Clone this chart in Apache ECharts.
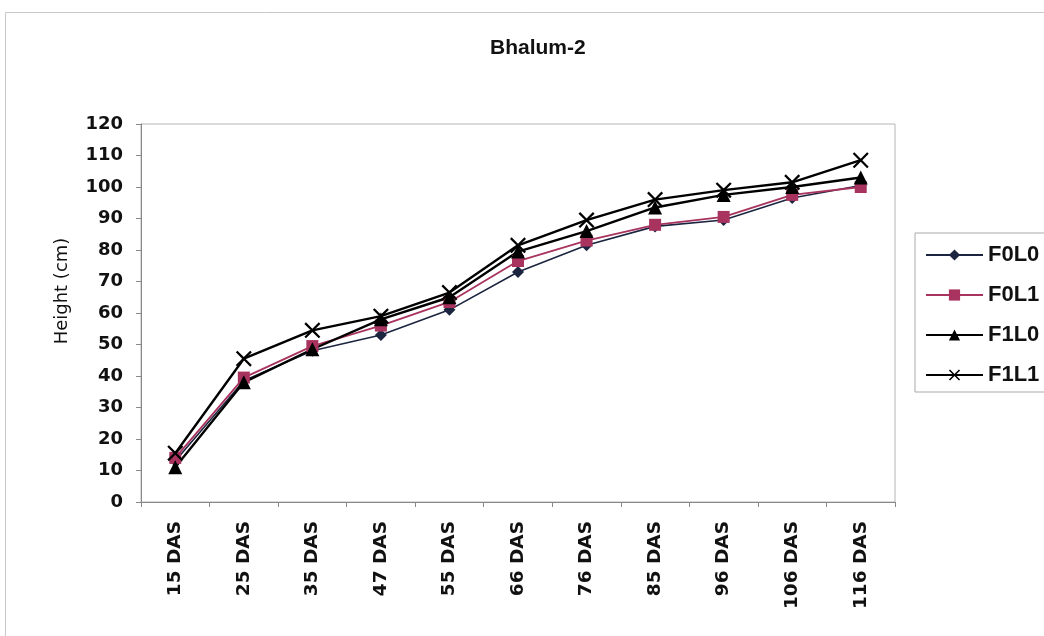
<!DOCTYPE html>
<html>
<head>
<meta charset="utf-8">
<script src="https://cdn.jsdelivr.net/npm/echarts@6/dist/echarts.min.js"></script>
<style>
  html, body { margin: 0; padding: 0; background: #fff; }
  #chart { width: 1044px; height: 636px; }
</style>
</head>
<body>
<div id="chart"></div>
<script>
// Plant height (cm) at days after sowing, Bhalum-2
const categories = ['15 DAS', '25 DAS', '35 DAS', '47 DAS', '55 DAS', '66 DAS', '76 DAS', '85 DAS', '96 DAS', '106 DAS', '116 DAS'];
const F0L0 = [13, 38.5, 48, 53, 61, 73, 81.5, 87.5, 89.5, 96.5, 100.5];
const F0L1 = [14, 39.5, 49.5, 56, 63.5, 76.5, 83, 88, 90.5, 97.5, 100];
const F1L0 = [11, 38, 48.5, 58, 65, 79.5, 86, 93.5, 97.5, 100, 103];
const F1L1 = [15.5, 45.5, 54.5, 59, 66.5, 81.5, 89.5, 96, 99, 101.5, 108.5];
const yTicks = { min: 0, max: 120, interval: 10 };
const yTitle = 'Height (cm)';

const crossPath = 'path://M1,0 L5,4 L9,0 L10,1 L6,5 L10,9 L9,10 L5,6 L1,10 L0,9 L4,5 L0,1 Z';
const wideBold = '"DejaVu Sans", Verdana, sans-serif';
const plainBold = '"Liberation Sans", Arial, sans-serif';

function lineSeries(name, data, color, symbol, size, width) {
  return {
    name: name,
    type: 'line',
    data: data,
    symbol: symbol,
    symbolSize: size,
    showAllSymbol: true,
    lineStyle: { color: color, width: width },
    itemStyle: { color: color },
    emphasis: { disabled: true },
    z: 3
  };
}

const chart = echarts.init(document.getElementById('chart'));
chart.setOption({
  animation: false,
  backgroundColor: '#ffffff',
  title: {
    text: 'Bhalum-2',
    left: 485,
    top: 33,
    textStyle: { fontSize: 21, fontWeight: 'bold', color: '#111', fontFamily: plainBold }
  },
  graphic: [{
    type: 'rect',
    shape: { x: 5.5, y: 12.5, width: 1100, height: 700 },
    style: { fill: 'none', stroke: '#c8c8c8', lineWidth: 1 },
    silent: true
  }, {
    type: 'text',
    x: 62,
    y: 291,
    rotation: Math.PI / 2,
    style: {
      text: yTitle,
      fill: '#111',
      font: '18px "DejaVu Sans", Verdana, sans-serif',
      textAlign: 'center',
      textVerticalAlign: 'middle'
    },
    silent: true
  }],
  legend: {
    orient: 'vertical',
    left: 915,
    top: 233,
    padding: [11, 20, 6, 10],
    itemGap: 18,
    itemWidth: 57,
    itemHeight: 14,
    borderColor: '#aaa',
    borderWidth: 1,
    textStyle: { fontSize: 22, fontWeight: 'bold', color: '#111', fontFamily: plainBold },
    data: ['F0L0', 'F0L1', 'F1L0', 'F1L1']
  },
  grid: {
    left: 141,
    top: 124,
    right: 149,
    bottom: 134,
    show: true,
    borderColor: '#b5b5b5',
    borderWidth: 1
  },
  xAxis: {
    type: 'category',
    data: categories,
    boundaryGap: true,
    axisLine: { lineStyle: { color: '#888', width: 1 } },
    axisTick: { show: true, alignWithLabel: false, length: 5, lineStyle: { color: '#888' } },
    axisLabel: {
      rotate: 90,
      margin: 19,
      fontSize: 18.5,
      fontWeight: 'bold',
      fontFamily: wideBold,
      color: '#111',
      interval: 0
    },
    splitLine: { show: false }
  },
  yAxis: {
    type: 'value',
    min: yTicks.min,
    max: yTicks.max,
    interval: yTicks.interval,
    axisLine: { show: true, lineStyle: { color: '#888', width: 1 } },
    axisTick: { show: true, length: 5, lineStyle: { color: '#888' } },
    axisLabel: { fontSize: 18, fontWeight: 'bold', fontFamily: wideBold, color: '#111', margin: 18 },
    splitLine: { show: false }
  },
  series: [
    lineSeries('F0L0', F0L0, '#1c2540', 'diamond', 12, 1.6),
    lineSeries('F0L1', F0L1, '#a8335e', 'rect', 12, 1.8),
    lineSeries('F1L0', F1L0, '#000000', 'triangle', 14, 2.4),
    lineSeries('F1L1', F1L1, '#000000', crossPath, 16, 2.4)
  ]
});
</script>
</body>
</html>
